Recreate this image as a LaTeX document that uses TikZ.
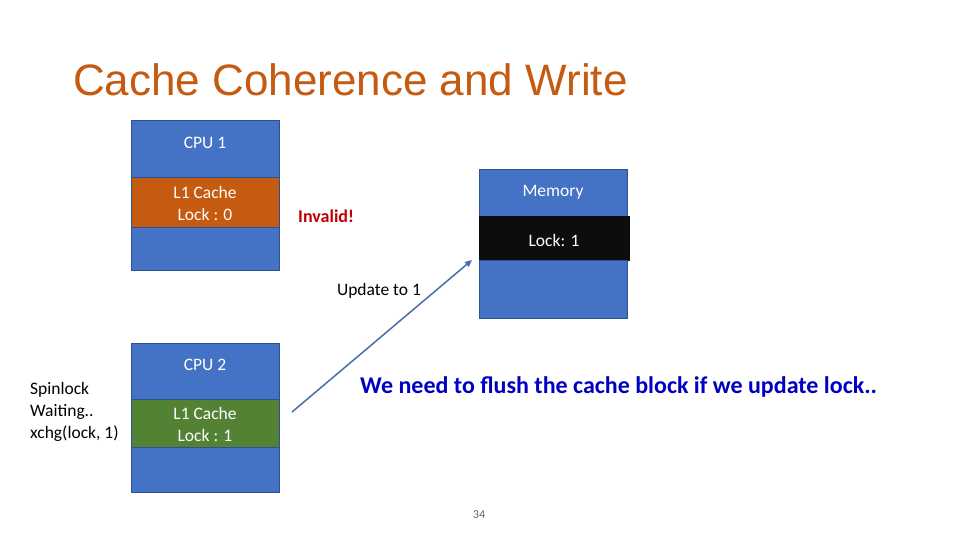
\documentclass[tikz,border=0pt]{standalone}
\usepackage{fontspec}
\setmainfont{Carlito}
\newfontfamily\titlefont{Liberation Sans}
\usetikzlibrary{arrows.meta}
\definecolor{boxblue}{HTML}{4472C4}
\definecolor{boxedge}{HTML}{2F528F}
\definecolor{cacheorange}{HTML}{C55A11}
\definecolor{cachegreen}{HTML}{548235}
\definecolor{titleorange}{HTML}{C55A11}
\definecolor{msgblue}{HTML}{0000C0}
\definecolor{invred}{HTML}{C00000}
\definecolor{arrowblue}{HTML}{4A6EAA}
\tikzset{
  part/.style={draw=boxedge, line width=1pt, fill=boxblue, minimum width=148pt, inner sep=0pt, outer sep=0pt, anchor=north west},
  intext/.style={inner sep=0pt, text=white, font=\fontsize{17.5}{22}\selectfont, align=center},
  lbl/.style={inner sep=0pt, font=\fontsize{17.5}{22}\selectfont, align=left}
}
\begin{document}
\begin{tikzpicture}[x=1pt,y=-1pt]
\useasboundingbox (0,0) rectangle (960,540);
\fill[white] (0,0) rectangle (960,540);
\node[anchor=base west, inner sep=0pt, text=titleorange, font=\titlefont\fontsize{44}{52}\selectfont] (title) at (73,96) {Cache Coherence and Write};
% CPU 1
\node[part, minimum height=57pt] (c1top) at (131,121) {};
\node[part, minimum height=49pt, fill=cacheorange] (c1cache) at (131,178) {};
\node[part, minimum height=43pt] (c1bot) at (131,227) {};
\node[intext] (c1lbl) at (205,143) {CPU 1};
\node[intext] (c1clbl) at (205,203) {L1 Cache\\Lock : 0};
% CPU 2
\node[part, minimum height=56pt] (c2top) at (131,343) {};
\node[part, minimum height=48pt, fill=cachegreen] (c2cache) at (131,399) {};
\node[part, minimum height=45pt] (c2bot) at (131,447) {};
\node[intext] (c2lbl) at (205,365) {CPU 2};
\node[intext] (c2clbl) at (205,424) {L1 Cache\\Lock : 1};
% Memory
\node[part, minimum height=46pt] (mtop) at (479,170) {};
\node[part, minimum height=44pt, fill=black!95, draw=black!95, minimum width=150pt] (mlock) at (479,216) {};
\node[part, minimum height=58pt] (mbot) at (479,260) {};
\node[intext] (mlbl) at (553,192) {Memory};
\node[intext] (mlocklbl) at (554,240) {Lock: 1};
% texts
\node[lbl, anchor=west, text=invred, font=\bfseries\fontsize{18}{22}\selectfont] (inv) at (298,216) {Invalid!};
\node[lbl, anchor=center] (upd) at (379,291) {Update to 1};
\node[lbl, anchor=west, text=msgblue, font=\bfseries\fontsize{24}{28}\selectfont] (msg) at (360,387) {We need to flush the cache block if we update lock..};
\node[lbl, anchor=north west] (spin) at (30,382) {Spinlock\\Waiting..\\xchg(lock, 1)};
\node[inner sep=0pt, text=black!60, font=\fontsize{12}{14}\selectfont] (page) at (479,515) {34};
% arrow
\coordinate (astart) at (292,412);
\coordinate (aend) at (472,260);
\draw[arrowblue, line width=1.5pt, -{Triangle[length=7pt,width=6pt]}] (astart) -- (aend);
\end{tikzpicture}
\end{document}
